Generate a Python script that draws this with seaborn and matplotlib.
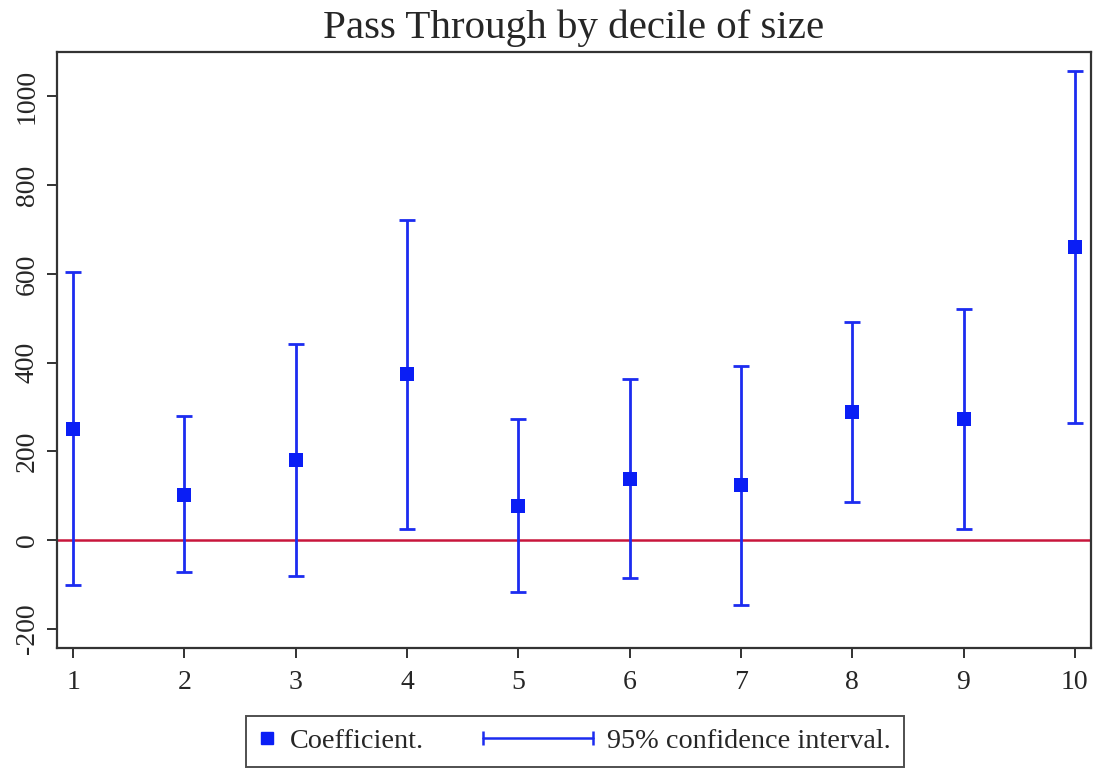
import numpy as np
import pandas as pd
import matplotlib
matplotlib.use("Agg")
import matplotlib.pyplot as plt
import seaborn as sns
from matplotlib.lines import Line2D
from matplotlib.legend_handler import HandlerBase

# ---- data ----
deciles = [1, 2, 3, 4, 5, 6, 7, 8, 9, 10]
coef = [250, 102, 181, 374, 78, 137, 124, 289, 274, 661]
ci_low = [-101, -72, -81, 26, -117, -86, -146, 86, 25, 264]
ci_high = [604, 279, 443, 721, 273, 363, 393, 492, 521, 1058]
yticks = [-200, 0, 200, 400, 600, 800, 1000]
title = "Pass Through by decile of size"
legend_labels = ["Coefficient.", "95% confidence interval."]

df = pd.DataFrame({"decile": deciles, "coef": coef, "lo": ci_low, "hi": ci_high})

sns.set_style("white")
plt.rcParams["font.family"] = ["Liberation Serif", "DejaVu Serif"]

BLUE_LINE = "#1c2cf0"
BLUE_MARK = "#0a1ef5"
RED = "#c8163c"

fig = plt.figure(figsize=(10.99, 7.69), dpi=100)
ax = fig.add_axes([0.0519, 0.1573, 0.9408, 0.7751])

ax.axhline(0, color=RED, lw=1.8, zorder=1)
ax.errorbar(df["decile"], df["coef"],
            yerr=[df["coef"] - df["lo"], df["hi"] - df["coef"]],
            fmt="none", ecolor=BLUE_LINE, elinewidth=2.0, capsize=5.8,
            capthick=2.0, zorder=2)
sns.scatterplot(data=df, x="decile", y="coef", marker="s", s=105,
                color=BLUE_MARK, edgecolor=BLUE_MARK, linewidth=0,
                ax=ax, zorder=3, legend=False)

ax.set_xlim(0.855, 10.145)
ax.set_ylim(-243, 1100)
ax.set_xticks(deciles)
ax.set_xticklabels([str(d) for d in deciles])
ax.set_yticks(yticks)
ax.set_yticklabels([str(v) for v in yticks], rotation=90, va="center")
ax.set_xlabel("")
ax.set_ylabel("")
ax.tick_params(axis="both", direction="out", length=7.5, width=1.3,
               color="#222222", labelsize=20, bottom=True, left=True)
ax.tick_params(axis="x", pad=8)
ax.tick_params(axis="y", pad=5)
for sp in ax.spines.values():
    sp.set_color("#333333")
    sp.set_linewidth(1.6)

fig.text(0.522, 0.963, title, ha="center", va="center", fontsize=29.5)


class CIHandler(HandlerBase):
    def create_artists(self, legend, orig_handle, xdescent, ydescent,
                       width, height, fontsize, trans):
        y = height / 2 - ydescent
        x1 = width - xdescent
        x0 = x1 - 3.9 * fontsize
        line = Line2D([x0, x1], [y, y], color=BLUE_LINE, lw=1.8,
                      marker="|", markersize=10, markeredgewidth=1.8,
                      transform=trans)
        return [line]


h_coef = Line2D([], [], linestyle="none", marker="s", markersize=8.5,
                color=BLUE_MARK)
h_ci = Line2D([], [], color=BLUE_LINE)

leg = fig.legend([h_coef, h_ci], legend_labels, ncol=2,
                 loc="center", bbox_to_anchor=(0.523, 0.036),
                 fontsize=20.3, frameon=True, fancybox=False,
                 handlelength=0.6, handletextpad=0.5, columnspacing=5.4,
                 borderpad=0.45, borderaxespad=0,
                 handler_map={h_ci: CIHandler()})
leg.get_frame().set_edgecolor("#222222")
leg.get_frame().set_linewidth(1.4)

fig.savefig("out.png", dpi=100)
